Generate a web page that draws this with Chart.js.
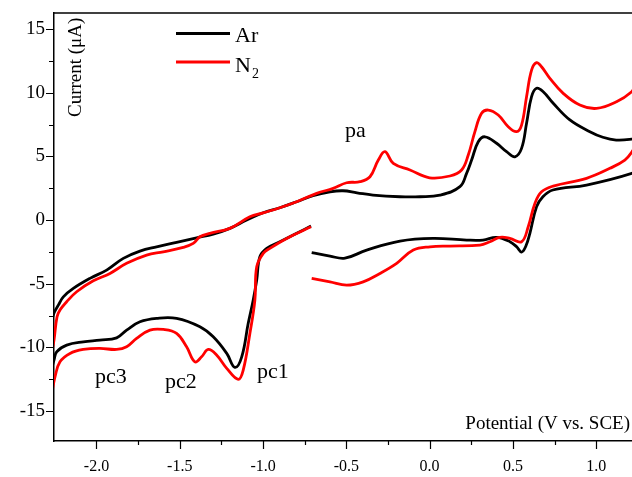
<!DOCTYPE html>
<html>
<head>
<meta charset="utf-8">
<script src="https://cdn.jsdelivr.net/npm/chart.js@4"></script>
<style>
  html, body { margin: 0; padding: 0; background: #fff; }
  #wrap { width: 632px; height: 477px; }
</style>
</head>
<body>
<div id="wrap"><canvas id="cvChart" width="632" height="477"></canvas></div>
<script>
// Ar scan (potential in V vs SCE, current in uA), in scan order
const potentialAr = [
  -0.708, -0.598, -0.508, -0.378, -0.178, 0.02, 0.222, 0.32, 0.402, 0.482, 0.524, 0.552, 0.578, 0.602,
  0.642, 0.68, 0.74, 0.942, 1.214, 1.26, 1.27, 1.26,
  1.213, 1.12, 1.04, 0.962, 0.842, 0.742, 0.682, 0.642, 0.612, 0.582, 0.552, 0.512, 0.462, 0.402,
  0.332, 0.292, 0.252, 0.222, 0.182, 0.062, -0.058, -0.178, -0.34, -0.436, -0.52, -0.598, -0.70,
  -0.798, -0.899, -0.999, -1.098, -1.199, -1.299, -1.399, -1.519, -1.639, -1.739, -1.839, -1.939,
  -2.039, -2.139, -2.199, -2.229, -2.255, -2.28, -2.29, -2.28,
  -2.255, -2.239, -2.179, -2.079, -1.979, -1.879, -1.819, -1.739, -1.639, -1.519, -1.379, -1.299,
  -1.218, -1.169, -1.128, -1.089, -1.059, -1.038, -1.019, -0.978, -0.899, -0.798, -0.712
];
const currentAr = [
  -2.55, -2.83, -2.99, -2.36, -1.65, -1.44, -1.57, -1.57, -1.36, -1.70, -2.12, -2.51, -2.04, -1.04,
  1.04, 1.83, 2.36, 2.75, 3.67, 4.1, 5.2, 6.5,
  6.35, 6.28, 6.5, 6.94, 7.86, 9.17, 10.08, 10.35, 9.69, 7.60, 5.63, 4.97, 5.37, 6.03,
  6.54, 6.15, 4.71, 3.67, 2.62, 1.96, 1.83, 1.83, 1.96, 2.14, 2.30, 2.22, 1.92,
  1.44, 0.97, 0.57, 0.0, -0.65, -1.10, -1.39, -1.75, -2.10, -2.44, -3.01, -3.93,
  -4.58, -5.37, -6.03, -6.68, -7.31, -8.6, -10.5, -12.0,
  -11.0, -10.35, -9.82, -9.56, -9.43, -9.25, -8.64, -7.99, -7.72, -7.72, -8.38, -9.17,
  -10.47, -11.57, -10.74, -8.11, -6.28, -4.71, -2.88, -2.22, -1.70, -1.04, -0.47
];

// N2 scan
const potentialN2 = [
  -0.708, -0.598, -0.498, -0.399, -0.298, -0.198, -0.098, 0.002, 0.122, 0.302, 0.362, 0.422, 0.482,
  0.552, 0.592, 0.632, 0.672, 0.742, 0.942, 1.082, 1.172, 1.214, 1.25, 1.27, 1.25,
  1.213, 1.122, 1.002, 0.902, 0.802, 0.722, 0.672, 0.642, 0.612, 0.582, 0.552, 0.522, 0.472, 0.412,
  0.352, 0.312, 0.272, 0.232, 0.192, 0.122, 0.0, -0.118, -0.218, -0.268, -0.308, -0.358, -0.418,
  -0.498, -0.579, -0.678, -0.798, -0.899, -0.999, -1.079, -1.199, -1.319, -1.379, -1.419, -1.479,
  -1.599, -1.699, -1.819, -1.919, -2.019, -2.119, -2.179, -2.219, -2.237, -2.255, -2.28, -2.27,
  -2.249, -2.219, -2.159, -2.079, -1.979, -1.879, -1.819, -1.759, -1.679, -1.599, -1.519, -1.459,
  -1.409, -1.369, -1.329, -1.279, -1.218, -1.149, -1.119, -1.079, -1.049, -1.038, -0.999, -0.959,
  -0.858, -0.712
];
const currentN2 = [
  -4.58, -4.85, -5.11, -4.85, -4.19, -3.40, -2.36, -2.10, -2.04, -1.97, -1.70, -1.36, -1.44,
  -1.70, -0.53, 1.31, 2.22, 2.67, 3.28, 4.06, 4.71, 5.34, 6.2, 8.0, 10.8,
  10.08, 9.29, 8.77, 9.03, 9.95, 11.13, 12.04, 12.36, 11.78, 9.69, 7.46, 6.94, 7.33, 8.25,
  8.64, 8.38, 6.94, 5.11, 3.93, 3.46, 3.32, 3.93, 4.45, 5.37, 4.71, 3.40, 3.01,
  2.93, 2.49, 2.10, 1.44, 0.97, 0.57, 0.26, -0.65, -1.04, -1.31, -1.83, -2.14,
  -2.49, -2.75, -3.40, -4.19, -4.77, -5.63, -6.42, -7.07, -7.62, -9.43, -11.5, -13.5,
  -12.31, -11.13, -10.47, -10.16, -10.08, -10.16, -9.95, -9.29, -8.64, -8.59, -8.90, -9.95,
  -11.13, -10.74, -10.16, -10.60, -11.65, -12.51, -11.78, -8.90, -6.28, -3.67, -2.62, -2.22,
  -1.44, -0.53
];

const xMajorTicks = [-2.0, -1.5, -1.0, -0.5, 0.0, 0.5, 1.0];
const xMinorTicks = [-1.75, -1.25, -0.75, -0.25, 0.25, 0.75];
const yMajorTicks = [-15, -10, -5, 0, 5, 10, 15];
const yMinorTicks = [-12.5, -7.5, -2.5, 2.5, 7.5, 12.5];

const peakLabels = ['pa', 'pc3', 'pc2', 'pc1'];
const peakLabelX = [-0.508, -2.009, -1.589, -1.037];
const peakLabelY = [6.52, -12.8, -13.2, -12.4];

const toPoints = (xs, ys) => xs.map((x, i) => ({ x: x, y: ys[i] }));
const serif = '"Liberation Serif", "DejaVu Serif", serif';

const extras = {
  id: 'extras',
  afterDraw(chart) {
    const ctx = chart.ctx;
    const a = chart.chartArea;
    const xs = chart.scales.x, ys = chart.scales.y;
    ctx.save();
    ctx.strokeStyle = '#000';
    ctx.fillStyle = '#000';

    // top frame line
    ctx.lineWidth = 1.5;
    ctx.beginPath();
    ctx.moveTo(a.left, a.top);
    ctx.lineTo(a.right, a.top);
    ctx.stroke();

    // tick marks (outside)
    ctx.lineWidth = 1.2;
    ctx.beginPath();
    yMajorTicks.concat(yMinorTicks).forEach(v => {
      const y = Math.round(ys.getPixelForValue(v)) + 0.5;
      const len = yMajorTicks.includes(v) ? 8 : 5;
      ctx.moveTo(a.left - len, y);
      ctx.lineTo(a.left, y);
    });
    xMajorTicks.concat(xMinorTicks).forEach(v => {
      const x = Math.round(xs.getPixelForValue(v)) + 0.5;
      const len = xMajorTicks.includes(v) ? 8 : 4;
      ctx.moveTo(x, a.bottom);
      ctx.lineTo(x, a.bottom + len);
    });
    ctx.stroke();

    // axis titles
    ctx.font = '19px ' + serif;
    ctx.textAlign = 'right';
    ctx.textBaseline = 'alphabetic';
    ctx.fillText('Potential (V vs. SCE)', a.right - 2, a.bottom - 12);
    ctx.save();
    ctx.translate(a.left + 27, a.top + 104);
    ctx.rotate(-Math.PI / 2);
    ctx.textAlign = 'left';
    ctx.fillText('Current (\u03bcA)', 0, 0);
    ctx.restore();

    // legend
    const lx = a.left + 122;
    ctx.lineWidth = 3;
    ctx.strokeStyle = '#000';
    ctx.beginPath(); ctx.moveTo(lx, 33.5); ctx.lineTo(lx + 54, 33.5); ctx.stroke();
    ctx.strokeStyle = '#ff0000';
    ctx.beginPath(); ctx.moveTo(lx, 62); ctx.lineTo(lx + 54, 62); ctx.stroke();
    ctx.textAlign = 'left';
    ctx.font = '22px ' + serif;
    ctx.fillText('Ar', lx + 59, 41.5);
    ctx.fillText('N', lx + 59, 71.5);
    const nw = ctx.measureText('N').width;
    ctx.font = '14px ' + serif;
    ctx.fillText('2', lx + 60 + nw, 78);

    // peak labels
    ctx.font = '22px ' + serif;
    peakLabels.forEach((t, i) => {
      ctx.fillText(t, xs.getPixelForValue(peakLabelX[i]), ys.getPixelForValue(peakLabelY[i]));
    });
    ctx.restore();
  }
};

new Chart(document.getElementById('cvChart'), {
  type: 'scatter',
  data: {
    datasets: [
      {
        label: 'N2',
        data: toPoints(potentialN2, currentN2),
        showLine: true,
        borderColor: '#ff0000',
        borderWidth: 2.8,
        pointRadius: 0,
        tension: 0.4,
        clip: 0,
        order: 0
      },
      {
        label: 'Ar',
        data: toPoints(potentialAr, currentAr),
        showLine: true,
        borderColor: '#000000',
        borderWidth: 2.8,
        pointRadius: 0,
        tension: 0.4,
        clip: 0,
        order: 1
      }
    ]
  },
  options: {
    responsive: false,
    animation: false,
    layout: { padding: { top: 13, right: 0, left: 0, bottom: 0 } },
    plugins: { legend: { display: false }, tooltip: { enabled: false } },
    scales: {
      x: {
        type: 'linear',
        min: -2.255,
        max: 1.215,
        grid: { display: false },
        border: { display: true, color: '#000', width: 1.5 },
        afterBuildTicks: s => { s.ticks = xMajorTicks.map(v => ({ value: v })); },
        afterFit: s => { s.height = 36; },
        ticks: {
          padding: 8,
          color: '#000',
          maxRotation: 0,
          autoSkip: false,
          font: { family: serif, size: 16 },
          callback: v => v.toFixed(1)
        }
      },
      y: {
        type: 'linear',
        min: -17.35,
        max: 16.26,
        grid: { display: false },
        border: { display: true, color: '#000', width: 1.5 },
        afterBuildTicks: s => { s.ticks = yMajorTicks.map(v => ({ value: v })); },
        afterFit: s => { s.width = 54; },
        ticks: {
          padding: 1,
          color: '#000',
          autoSkip: false,
          font: { family: serif, size: 19 },
          callback: v => String(v)
        }
      }
    }
  },
  plugins: [extras]
});
</script>
</body>
</html>
